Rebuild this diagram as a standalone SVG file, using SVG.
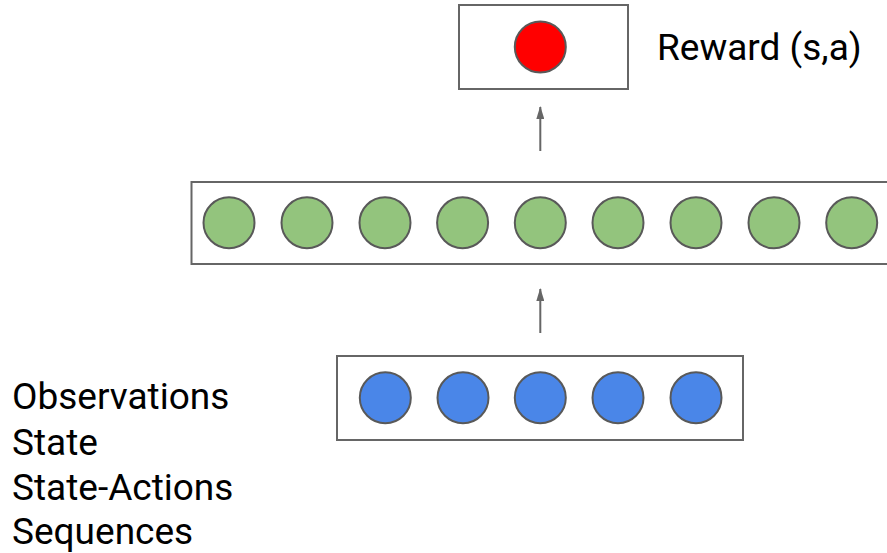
<svg xmlns="http://www.w3.org/2000/svg" width="887" height="553" viewBox="0 0 887 553">
<defs>
<style>
.box{fill:#ffffff;stroke:#666666;stroke-width:2}
.c{stroke:#595959;stroke-width:2}
.g{fill:#93c47d}
.b{fill:#4a86e8}
.r{fill:#ff0000}
.t{font-family:Roboto,"Liberation Sans",sans-serif;font-size:37px;fill:#000000}
.edge{stroke:#666666;stroke-width:2;fill:none}
</style>
<marker id="ah" viewBox="0 0 13 8" refX="12" refY="4" markerWidth="6.5" markerHeight="4" markerUnits="strokeWidth" orient="auto">
<path d="M0,0 L13,4 L0,8 z" fill="#666666"/>
</marker>
</defs>
<rect width="887" height="553" fill="#ffffff"/>
<g id="reward">
<rect class="box" x="459" y="5" width="169" height="84"/>
<circle class="c r" cx="540.3" cy="47" r="25.5"/>
</g>
<text class="t" x="657" y="60">Reward (s,a)</text>
<g id="hidden">
<rect class="box" x="191.5" y="182" width="710" height="82"/>
<circle class="c g" cx="229" cy="222.7" r="25.5"/>
<circle class="c g" cx="307" cy="222.7" r="25.5"/>
<circle class="c g" cx="385" cy="222.7" r="25.5"/>
<circle class="c g" cx="462.6" cy="222.7" r="25.5"/>
<circle class="c g" cx="540.3" cy="222.7" r="25.5"/>
<circle class="c g" cx="618" cy="222.7" r="25.5"/>
<circle class="c g" cx="696" cy="222.7" r="25.5"/>
<circle class="c g" cx="774" cy="222.7" r="25.5"/>
<circle class="c g" cx="851.7" cy="222.7" r="25.5"/>
</g>
<g id="input">
<rect class="box" x="337" y="356" width="406" height="84"/>
<circle class="c b" cx="385.3" cy="397.7" r="25.5"/>
<circle class="c b" cx="463" cy="397.7" r="25.5"/>
<circle class="c b" cx="540.3" cy="397.7" r="25.5"/>
<circle class="c b" cx="618" cy="397.7" r="25.5"/>
<circle class="c b" cx="696" cy="397.7" r="25.5"/>
</g>
<g id="inputs-label">
<text class="t" x="12" y="409">Observations</text>
<text class="t" x="12" y="455">State</text>
<text class="t" x="12" y="500">State-Actions</text>
<text class="t" x="12" y="544">Sequences</text>
</g>
<g id="connectors">
<line class="edge" x1="540.3" y1="151" x2="540.3" y2="107" marker-end="url(#ah)"/>
<line class="edge" x1="540.3" y1="333" x2="540.3" y2="289" marker-end="url(#ah)"/>
</g>
</svg>
